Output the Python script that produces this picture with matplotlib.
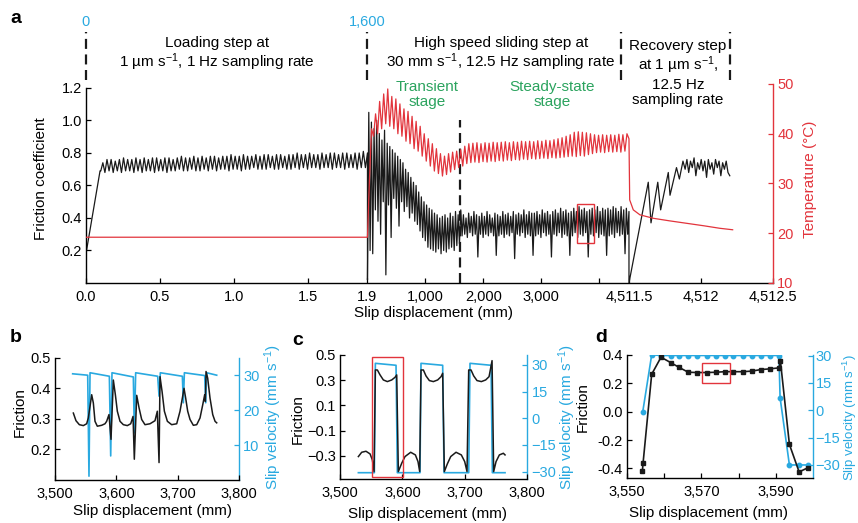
import matplotlib.pyplot as plt
import matplotlib.patches as patches
import matplotlib.transforms as transforms
import matplotlib.ticker as ticker
import numpy as np

plt.rcParams['font.family'] = 'Liberation Sans'
plt.rcParams['mathtext.fontset'] = 'custom'
plt.rcParams['mathtext.rm'] = 'Liberation Sans'
plt.rcParams['mathtext.it'] = 'Liberation Sans:italic'
plt.rcParams['font.size'] = 10.5
plt.rcParams['axes.linewidth'] = 1.0

BLACK = '#1a1a1a'
RED = '#e2343c'
CYAN = '#29a9e0'
GREEN = '#2ba35e'
DASH = (0, (4.5, 2.5))

# ---------------- panel a : full run ----------------
# loading step (0 - 1.9 mm), 1 Hz
load_ramp_x = [0.0, 0.095]
load_ramp = [0.18, 0.69]
load_peaks = [0.74, 0.76, 0.76, 0.75, 0.76, 0.77, 0.76, 0.76, 0.77, 0.76,
              0.77, 0.76, 0.77, 0.77, 0.76, 0.77, 0.77, 0.76, 0.77, 0.78,
              0.77, 0.77, 0.78, 0.77, 0.78, 0.77, 0.78, 0.78, 0.77, 0.78,
              0.78, 0.79, 0.78, 0.78, 0.79, 0.78, 0.78, 0.79, 0.78, 0.79,
              0.79, 0.78, 0.79, 0.79, 0.78, 0.79, 0.79, 0.80, 0.79, 0.79,
              0.80, 0.79, 0.79, 0.80, 0.79, 0.80, 0.80, 0.79, 0.80, 0.80,
              0.79, 0.80, 0.80, 0.81, 0.80]
load_troughs = [0.69, 0.68, 0.69, 0.68, 0.69, 0.68, 0.69, 0.69, 0.68, 0.69,
                0.68, 0.69, 0.69, 0.68, 0.69, 0.69, 0.68, 0.69, 0.69, 0.70,
                0.69, 0.69, 0.70, 0.69, 0.69, 0.70, 0.69, 0.70, 0.69, 0.70,
                0.70, 0.69, 0.70, 0.70, 0.69, 0.70, 0.70, 0.71, 0.70, 0.70,
                0.70, 0.71, 0.70, 0.70, 0.71, 0.70, 0.70, 0.71, 0.70, 0.71,
                0.70, 0.71, 0.71, 0.70, 0.71, 0.71, 0.70, 0.71, 0.71, 0.70,
                0.71, 0.71, 0.70, 0.71, 0.71]
load_temp_x = [0.0, 1.9]
load_temp = [19.2, 19.2]

# high speed step (1.9 - 4,511.5 mm), friction samples
fast_fric = [
    # transient onset
    0.02, 1.05, 0.20, 0.99, 0.18, 0.95, 0.45, 1.00, 0.38, 0.92,
    0.30, 0.88, 0.50, 0.94, 0.05, 0.86, 0.48, 0.84, 0.28, 0.82,
    0.52, 0.80, 0.46, 0.78, 0.35, 0.76,
    0.50, 0.74, 0.44, 0.70, 0.47, 0.68, 0.40, 0.65, 0.43, 0.62,
    0.38, 0.60, 0.36,
    0.56, 0.32, 0.53, 0.28, 0.50, 0.26, 0.48, 0.22, 0.46, 0.21,
    0.45, 0.20,
    0.43, 0.19, 0.42, 0.21, 0.40, 0.18, 0.41, 0.20, 0.42, 0.19,
    0.40, 0.21, 0.43, 0.22, 0.41, 0.20, 0.44, 0.23, 0.42, 0.24,
    0.45,
    # steady state
    0.29, 0.42, 0.30, 0.40, 0.28, 0.43, 0.31, 0.41, 0.29, 0.44, 0.30, 0.42, 0.16, 0.41,
    0.30, 0.43, 0.28, 0.41, 0.30, 0.44, 0.29, 0.42, 0.31, 0.40, 0.29, 0.43, 0.17, 0.42,
    0.29, 0.41, 0.30, 0.44, 0.28, 0.42, 0.30, 0.43, 0.29, 0.41, 0.31, 0.44, 0.15, 0.42,
    0.30, 0.43, 0.29, 0.42, 0.31, 0.45, 0.28, 0.42, 0.30, 0.44, 0.29, 0.43, 0.17, 0.43,
    0.29, 0.44, 0.30, 0.42, 0.28, 0.45, 0.31, 0.43, 0.29, 0.44, 0.30, 0.42, 0.16, 0.44,
    0.30, 0.45, 0.29, 0.43, 0.31, 0.46, 0.28, 0.44, 0.30, 0.45, 0.29, 0.43, 0.17, 0.44,
    0.29, 0.46, 0.31, 0.44, 0.28, 0.47, 0.30, 0.45, 0.29, 0.46, 0.31, 0.44, 0.16, 0.45,
    0.30, 0.46, 0.29, 0.45, 0.31, 0.47, 0.28, 0.44, 0.30, 0.46, 0.29, 0.45, 0.17, 0.46,
    0.29, 0.45, 0.30, 0.47, 0.28, 0.46, 0.31, 0.44, 0.29, 0.47, 0.30, 0.45, 0.18, 0.46,
    0.30, 0.44]
fast_temp = [
    19.2, 31.0, 41.0, 39.5, 44.0, 40.0, 46.5, 41.0, 48.0, 42.0,
    49.0, 41.5, 47.5, 41.0, 47.0, 40.0, 46.0, 39.5, 45.0, 38.5,
    44.5, 38.0, 43.5, 37.0, 42.5, 36.5, 41.5, 35.5, 40.0, 34.5,
    39.0, 33.5, 38.0, 32.5, 37.0, 32.0, 36.0, 31.5, 35.5, 31.8,
    36.0, 32.3, 36.3, 32.8, 36.5, 33.2, 36.8, 33.5, 37.5, 34.0,
    38.0, 34.2, 38.1, 34.3, 38.2, 34.2, 38.0, 34.4, 38.2, 34.3,
    38.1, 34.5, 38.3, 34.4, 38.2, 34.6, 38.3, 34.5, 38.4, 34.7,
    38.2, 34.6, 38.4, 34.8, 38.3, 34.7, 38.5, 34.9, 38.4, 34.8,
    38.5, 35.0, 38.4, 34.9, 38.6, 35.0, 38.5, 35.1, 38.7, 35.0,
    38.6, 35.2, 38.8, 35.1, 39.0, 35.2, 39.2, 35.3, 39.5, 35.4,
    39.8, 35.5, 40.3, 35.4, 40.4, 35.6, 40.3, 35.5, 40.2, 35.8,
    40.0, 36.0, 39.8, 36.2, 39.7, 36.3, 39.8, 36.2, 39.7, 36.4,
    39.8, 36.3, 39.7, 36.4, 39.9, 36.3, 39.8, 36.5, 40.0, 39.0]

# recovery step (4,511.5 - 4,512.2 mm)
rec_fric_x = [4511.5, 4511.634, 4511.653, 4511.70, 4511.72, 4511.773,
              4511.785, 4511.83, 4511.85, 4511.875]
rec_fric = [0.0, 0.62, 0.37, 0.62, 0.45, 0.68, 0.54, 0.71, 0.64, 0.75]
rec_band = [0.70, 0.76, 0.68, 0.75, 0.71, 0.77, 0.66, 0.74, 0.70, 0.76,
            0.69, 0.75, 0.65, 0.76, 0.70, 0.74, 0.67, 0.76, 0.71, 0.75,
            0.66, 0.74, 0.70, 0.75, 0.68, 0.66]
rec_temp_x = [4511.505, 4511.53, 4511.576, 4511.67, 4511.78, 4511.90,
              4512.02, 4512.13, 4512.22]
rec_temp = [26.7, 24.7, 23.7, 23.0, 22.5, 22.0, 21.5, 21.0, 20.7]

a_xticks = [0.0, 0.5, 1.0, 1.5, 1.9, 1000, 2000, 3000, 4000, 4511.5, 4512, 4512.5]
a_xlabels = ['0.0', '0.5', '1.0', '1.5', '1.9', '1,000', '2,000', '3,000', '',
             '4,511.5', '4,512', '4,512.5']
step_marks = [0.0, 1.9, 4373, 4512.2]
time_marks = ['0', '1,600', '', '']

# ---------------- panel b ----------------
b_fx = [3529.9, 3534.2, 3539.7, 3546.2, 3551.6, 3554.3, 3557.1, 3559.8, 3562.5, 3565.2,
        3569.0, 3576.1, 3581.5, 3584.2, 3588.0, 3591.3, 3595.1, 3598.4, 3601.6, 3606.0,
        3611.4, 3617.9, 3623.4, 3627.2, 3629.3, 3633.2, 3637.0, 3641.3, 3646.7, 3654.9,
        3663.0, 3666.8, 3669.6, 3671.2, 3674.5, 3678.3, 3683.2, 3690.2, 3698.4, 3703.8,
        3707.6, 3710.3, 3713.0, 3716.3, 3720.1, 3725.5, 3731.0, 3736.4, 3740.8, 3744.0,
        3745.1, 3746.2, 3748.9, 3752.7, 3757.1, 3760.9, 3763.6]
b_fric = [0.319, 0.294, 0.281, 0.278, 0.284, 0.303, 0.341, 0.379, 0.352, 0.292,
          0.276, 0.279, 0.284, 0.292, 0.314, 0.233, 0.427, 0.379, 0.325, 0.292,
          0.281, 0.278, 0.284, 0.308, 0.168, 0.377, 0.336, 0.298, 0.281, 0.284,
          0.294, 0.325, 0.157, 0.438, 0.390, 0.325, 0.292, 0.281, 0.284, 0.325,
          0.368, 0.400, 0.368, 0.325, 0.298, 0.279, 0.281, 0.303, 0.346, 0.379,
          0.357, 0.455, 0.433, 0.368, 0.314, 0.292, 0.287]
b_vx = [3528.8, 3553.3, 3555.4, 3557.1, 3588.6, 3590.8, 3592.9, 3627.7, 3629.3, 3631.5,
        3667.4, 3669.6, 3671.7, 3707.6, 3709.2, 3710.9, 3744.0, 3745.7, 3747.3, 3763.6]
b_vel = [30.4, 30.0, 1.1, 30.7, 29.7, 6.9, 30.7, 29.5, 13.5, 30.7,
         29.7, 24.0, 30.7, 29.7, 22.1, 30.7, 29.9, 22.1, 30.7, 30.0]

# ---------------- panel c ----------------
c_fx = [3529.4, 3534.7, 3541.6, 3548.1, 3551.8, 3554.5, 3556.6, 3559.8, 3564.1, 3569.4,
        3575.8, 3582.8, 3588.1, 3590.8, 3593.4, 3598.8, 3604.1, 3613.2, 3620.7, 3624.9,
        3627.6, 3629.7, 3633.5, 3637.7, 3643.1, 3649.5, 3656.4, 3661.8, 3664.4, 3667.1,
        3671.9, 3677.3, 3685.8, 3694.3, 3699.7, 3703.4, 3706.1, 3709.8, 3714.1, 3719.4,
        3726.4, 3733.3, 3738.7, 3743.5, 3746.1, 3749.9, 3755.2, 3761.6, 3764.3]
c_fric = [-0.305, -0.271, -0.263, -0.284, -0.332, -0.424, 0.381, 0.381, 0.342, 0.302,
          0.289, 0.302, 0.323, 0.342, -0.424, -0.358, -0.305, -0.271, -0.292, -0.345,
          -0.424, 0.381, 0.381, 0.334, 0.297, 0.289, 0.302, 0.328, 0.355, -0.424,
          -0.363, -0.305, -0.271, -0.292, -0.345, -0.424, 0.381, 0.381, 0.334, 0.297,
          0.289, 0.302, 0.328, 0.455, -0.424, -0.345, -0.292, -0.279, -0.292]
c_vx = [3529.4, 3555.0, 3556.6, 3589.7, 3591.8, 3628.1, 3629.7, 3664.4, 3666.6, 3706.1,
        3708.2, 3741.9, 3744.0, 3764.3]
c_vel = [-30.6, -30.6, 30.9, 29.8, -30.6, -30.6, 30.9, 29.8, -30.6, -30.6,
         30.9, 29.8, -30.6, -30.6]

# ---------------- panel d ----------------
d_fx = [3554.2, 3554.4, 3556.7, 3559.2, 3561.8, 3564.0, 3566.5, 3568.9, 3571.4, 3573.9,
        3576.3, 3578.6, 3581.1, 3583.5, 3586.0, 3588.4, 3590.8, 3591.2, 3593.6, 3596.2,
        3598.7]
d_fric = [-0.42, -0.36, 0.264, 0.384, 0.346, 0.313, 0.278, 0.276, 0.276, 0.278,
          0.282, 0.282, 0.282, 0.286, 0.297, 0.302, 0.309, 0.355, -0.231, -0.425,
          -0.394]
d_vx = [3554.3, 3556.7, 3559.2, 3561.8, 3564.0, 3566.5, 3568.9, 3571.4, 3573.9, 3576.3,
        3578.6, 3581.1, 3583.5, 3586.0, 3588.4, 3590.8, 3591.1, 3593.6, 3596.2, 3598.7]
d_vel = [-0.9, 30.4, 30.0, 30.0, 30.0, 30.0, 30.0, 30.0, 30.0, 30.0,
         30.0, 30.0, 30.0, 30.0, 30.0, 30.0, 6.9, -30.0, -30.0, -30.0]


def style(ax, right, rcolor, rpad=3):
    ax.spines['top'].set_visible(False)
    ax.spines['right'].set_visible(False)
    right.spines['top'].set_visible(False)
    right.spines['left'].set_visible(False)
    right.spines['bottom'].set_visible(False)
    right.spines['right'].set_color(rcolor)
    ax.tick_params(direction='in', length=3.5, width=0.9, pad=3, labelsize=10.5)
    ax.tick_params(axis='x', pad=5)
    right.tick_params(direction='in', length=3.5, width=0.9, pad=rpad, labelsize=10.5,
                      colors=rcolor)


fig = plt.figure(figsize=(8.58, 5.23), dpi=100)

# ---- a ----
ax = fig.add_axes([0.1002, 0.4589, 0.8007, 0.3805])
brk_data = [0.0, 1.9, 4511.5, 4512.5]
brk_plot = [0.0, 281.5, 543.0, 687.0]
ax.set_xscale('function', functions=(lambda v: np.interp(v, brk_data, brk_plot),
                                     lambda v: np.interp(v, brk_plot, brk_data)))
axT = ax.twinx()

fric_x = np.concatenate([load_ramp_x, np.linspace(0.1, 1.9, 2 * len(load_peaks)),
                         np.linspace(1.9, 4511.5, len(fast_fric)),
                         rec_fric_x, np.linspace(4511.89, 4512.20, len(rec_band))])
fric_y = np.concatenate([load_ramp, np.column_stack((load_troughs, load_peaks)).ravel(),
                         fast_fric, rec_fric, rec_band])
ax.plot(fric_x, fric_y, color=BLACK, lw=0.9)

temp_x = np.concatenate([load_temp_x, np.linspace(1.9, 4511.5, len(fast_temp)), rec_temp_x])
temp_y = np.concatenate([load_temp, fast_temp, rec_temp])
axT.plot(temp_x, temp_y, color=RED, lw=0.9)

ax.set_xlim(0, 4512.5)
ax.set_ylim(0, 1.2246)
axT.set_ylim(10, 50)
ax.set_xticks(a_xticks)
ax.set_xticklabels(a_xlabels)
ax.set_yticks([0.2, 0.4, 0.6, 0.8, 1.0, 1.2])
ax.yaxis.set_major_formatter(ticker.FormatStrFormatter('%.1f'))
axT.set_yticks([10, 20, 30, 40, 50])
ax.spines['left'].set_bounds(0, 1.2)
style(ax, axT, RED)

ax.set_ylabel('Friction coefficient', fontsize=11)
ax.yaxis.set_label_coords(0.0559, 0.6577, transform=fig.transFigure)
axT.set_ylabel('Temperature (°C)', color=RED, fontsize=11)
axT.yaxis.set_label_coords(0.9359, 0.6577, transform=fig.transFigure)
ax.set_xlabel('Slip displacement (mm)', fontsize=11)
ax.xaxis.set_label_coords(0.505, 0.4149, transform=fig.transFigure)

blend = transforms.blended_transform_factory(ax.transData, ax.transAxes)
for xm, lab in zip(step_marks, time_marks):
    ax.plot([xm, xm], [1.02, 1.26], transform=blend, clip_on=False,
            color=BLACK, lw=1.6, ls=DASH)
    if lab:
        ax.text(xm, 1.31, lab, transform=blend, color=CYAN, ha='center',
                va='center', fontsize=10.5)
ax.plot([1600, 1600], [0, 1.0], color=BLACK, lw=1.6, ls=DASH)
ax.add_patch(patches.Rectangle((3615, 0.246), 293, 0.24, fill=False,
                               edgecolor=RED, lw=1.0, zorder=5))

fig.text(0.2529, 0.8958, 'Loading step at\n1 µm s$^{-1}$, 1 Hz sampling rate',
         ha='center', va='center', fontsize=11, linespacing=1.05)
fig.text(0.5839, 0.8958, 'High speed sliding step at\n30 mm s$^{-1}$, 12.5 Hz sampling rate',
         ha='center', va='center', fontsize=11, linespacing=1.05)
fig.text(0.7902, 0.8604, 'Recovery step\nat 1 µm s$^{-1}$,\n12.5 Hz\nsampling rate',
         ha='center', va='center', fontsize=11, linespacing=1.1)
fig.text(0.4977, 0.8193, 'Transient\nstage', color=GREEN, ha='center', va='center',
         fontsize=11, linespacing=1.1)
fig.text(0.6434, 0.8193, 'Steady-state\nstage', color=GREEN, ha='center', va='center',
         fontsize=11, linespacing=1.1)

# ---- b, c, d ----
comma = ticker.FuncFormatter(lambda v, p: f'{v:,.0f}')
vel_label = 'Slip velocity (mm s$^{-1}$)'


def small_panel(rect, fx, fy, vx, vy, xlim, flim, vlim, fticks, vticks, xticks,
                lab_pos, markers=False, vsize=11, rpad=3):
    axl = fig.add_axes(rect)
    axr = axl.twinx()
    if markers:
        axr.plot(vx, vy, color=CYAN, lw=1.2, marker='o', ms=3.2)
        axl.plot(fx, fy, color=BLACK, lw=1.2, marker='s', ms=3.2)
    else:
        axr.plot(vx, vy, color=CYAN, lw=1.2)
        axl.plot(fx, fy, color=BLACK, lw=1.1)
    axl.set_zorder(axr.get_zorder() + 1)
    axl.patch.set_visible(False)
    axl.set_xlim(*xlim)
    axl.set_ylim(*flim)
    axr.set_ylim(*vlim)
    axl.set_yticks(fticks)
    axr.set_yticks(vticks)
    axl.set_xticks(xticks)
    axl.xaxis.set_major_formatter(comma)
    style(axl, axr, CYAN, rpad)
    axl.set_ylabel('Friction', fontsize=11)
    axl.yaxis.set_label_coords(lab_pos[0], lab_pos[1], transform=fig.transFigure)
    axr.set_ylabel(vel_label, color=CYAN, fontsize=vsize)
    axr.yaxis.set_label_coords(lab_pos[2], lab_pos[3], transform=fig.transFigure)
    axl.set_xlabel('Slip displacement (mm)', fontsize=11)
    axl.xaxis.set_label_coords(lab_pos[4], lab_pos[5], transform=fig.transFigure)
    return axl


axb = small_panel([0.0641, 0.0822, 0.2145, 0.2338], b_fx, b_fric, b_vx, b_vel,
                  (3500, 3800), (0.1, 0.5), (0, 35), [0.2, 0.3, 0.4, 0.5],
                  [10, 20, 30], [3500, 3600, 3700, 3800],
                  (0.0315, 0.2122, 0.3054, 0.2027, 0.1783, 0.0363))
axb.yaxis.set_major_formatter(ticker.FormatStrFormatter('%.1f'))

axc = small_panel([0.3963, 0.0836, 0.2183, 0.2377], c_fx, c_fric, c_vx, c_vel,
                  (3500, 3800), (-0.485, 0.5), (-34.3, 35.6), [-0.3, -0.1, 0.1, 0.3, 0.5],
                  [-30, -15, 0, 15, 30], [3500, 3600, 3700, 3800],
                  (0.3555, 0.1989, 0.6480, 0.2027, 0.4977, 0.0306))
axc.add_patch(patches.Rectangle((3550.5, -0.465), 49.8, 0.945, fill=False,
                                edgecolor=RED, lw=1.0, zorder=5))

axd = small_panel([0.7304, 0.0855, 0.2175, 0.2358], d_fx, d_fric, d_vx, d_vel,
                  (3550, 3600), (-0.47, 0.4), (-37.3, 30.3), [-0.4, -0.2, 0.0, 0.2, 0.4],
                  [-30, -15, 0, 15, 30], [3550, 3570, 3590],
                  (0.6876, 0.2218, 0.9800, 0.2027, 0.8263, 0.0325), markers=True,
                  vsize=9.5, rpad=1.5)
axd.yaxis.set_major_formatter(ticker.FormatStrFormatter('%.1f'))
axd.set_xticks([3560, 3580], minor=True)
axd.tick_params(which='minor', direction='in', length=3.5, width=0.9)
axd.add_patch(patches.Rectangle((3570.1, 0.20), 7.6, 0.145, fill=False,
                                edgecolor=RED, lw=1.0, zorder=5))

for lab, (fx_, fy_) in zip('abcd', [(0.0186, 0.9637), (0.0186, 0.3556),
                                    (0.3473, 0.3499), (0.7005, 0.3556)]):
    fig.text(fx_, fy_, lab, fontsize=14, fontweight='bold', ha='center', va='center')

fig.savefig('out.png', dpi=100)
